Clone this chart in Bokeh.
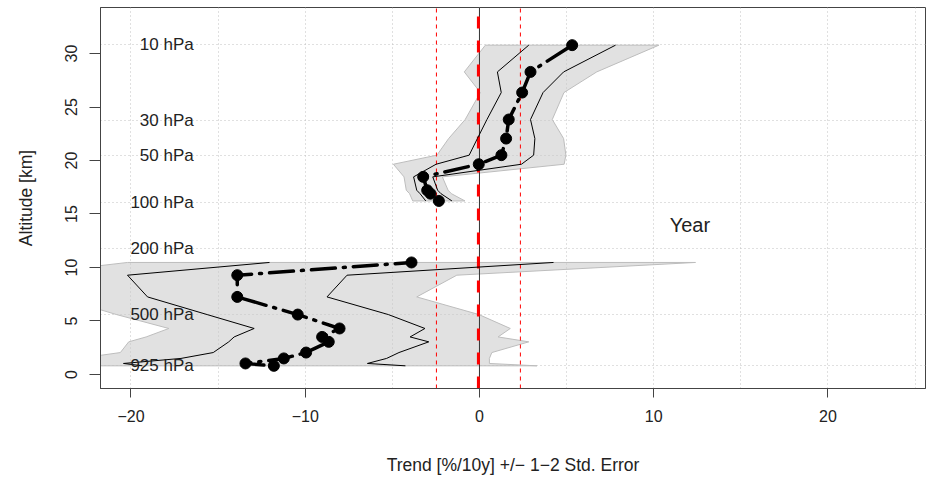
import numpy as np
from bokeh.plotting import figure
from bokeh.models import Range1d, FixedTicker, Label, ColumnDataSource
from bokeh.core.properties import value
from bokeh.embed import file_html
from bokeh.resources import INLINE

FONT = "Liberation Sans"

# ---- data ----
# upper (stratospheric) profile
alt_upper   = [16.22, 16.90, 17.22, 18.47, 19.65, 20.50, 22.05, 23.83, 26.35, 28.28, 30.78]
trend_upper = [-2.33, -2.81, -3.00, -3.23, -0.04, 1.26, 1.53, 1.68, 2.45, 2.93, 5.32]
se_upper    = [0.75, 0.60, 0.60, 0.55, 2.45, 1.85, 1.65, 1.25, 1.20, 1.90, 2.49]

# lower (tropospheric) profile
alt_lower   = [0.81, 1.03, 1.50, 2.05, 3.05, 3.51, 4.30, 5.60, 7.25, 9.28, 10.47]
trend_lower = [-11.80, -13.43, -11.23, -9.95, -8.65, -9.03, -8.03, -10.43, -13.90, -13.90, -3.90]
se_lower    = [7.55, 7.00, 5.90, 5.33, 5.74, 5.05, 4.90, 5.20, 5.15, 6.30, 8.15]

# pressure level labels and their altitudes
level_names = ["10 hPa", "30 hPa", "50 hPa", "100 hPa", "200 hPa", "500 hPa", "925 hPa"]
level_alt   = [30.87, 23.77, 20.50, 16.10, 11.80, 5.65, 0.80]

# reference lines
zero_line = 0.0
mean_trend = -0.06
mean_se_band = [-2.47, 2.35]

x_ticks = [-20, -10, 0, 10, 20]
y_ticks = [0, 5, 10, 15, 20, 25, 30]
x_grid = [-20, -15, -10, -5, 0, 5, 10, 15, 20, 25]
x_lim = (-21.75, 25.6)
y_lim = (-1.31, 34.3)

season_label = "Year"
label_x_pos = -16.4
season_pos = (12.08, 13.95)


def band(t, s, k):
    return [ti + k * si for ti, si in zip(t, s)]


p = figure(frame_width=825, frame_height=381,
           x_range=Range1d(*x_lim), y_range=Range1d(*y_lim),
           output_backend="svg", toolbar_location=None,
           min_border_left=100, min_border_right=8,
           min_border_top=7, min_border_bottom=89)

p.background_fill_color = "white"
p.border_fill_color = "white"
p.outline_line_color = "#444444"
p.outline_line_width = 1

# grid
p.xgrid.ticker = FixedTicker(ticks=x_grid)
p.ygrid.ticker = FixedTicker(ticks=level_alt)
p.grid.grid_line_color = "#c0c0c0"
p.grid.grid_line_dash = "1 3"
p.grid.grid_line_width = 1

# axes
p.xaxis.ticker = FixedTicker(ticks=x_ticks)
p.yaxis.ticker = FixedTicker(ticks=y_ticks)
p.xaxis.major_label_overrides = {-20: "\u221220", -10: "\u221210"}
p.yaxis.major_label_orientation = "vertical"
p.axis.minor_tick_line_color = None
p.axis.axis_line_color = "#444444"
p.axis.major_tick_line_color = "#444444"
p.axis.major_tick_in = 0
p.xaxis.major_tick_out = 9
p.yaxis.major_tick_out = 11
p.axis.major_label_text_font = FONT
p.axis.major_label_text_font_size = "16px"
p.axis.major_label_text_color = "#222222"
p.xaxis.major_label_standoff = 12
p.yaxis.major_label_standoff = 12
p.axis.axis_label_text_font = FONT
p.axis.axis_label_text_font_size = "17.5px"
p.axis.axis_label_text_font_style = "normal"
p.axis.axis_label_text_color = "#222222"
p.xaxis.axis_label = "Trend [%/10y] +/\u2212 1\u22122 Std. Error"
p.yaxis.axis_label = "Altitude [km]"
p.xaxis.axis_label_standoff = 30
p.yaxis.axis_label_standoff = 27

# +/- 2 SE shaded bands
for alt, t, s in ((alt_upper, trend_upper, se_upper), (alt_lower, trend_lower, se_lower)):
    xs = band(t, s, 2) + band(t, s, -2)[::-1]
    ys = list(alt) + list(alt)[::-1]
    p.patch(xs, ys, fill_color="#c8c8c8", fill_alpha=0.55,
            line_color="#bdbdbd", line_width=1)

# reference lines
p.segment(x0=[zero_line], y0=[y_lim[0]], x1=[zero_line], y1=[y_lim[1]],
          line_color="#333333", line_width=1)
p.segment(x0=[mean_trend], y0=[y_lim[0]], x1=[mean_trend], y1=[y_lim[1]],
          line_color="red", line_width=3, line_dash="12 12")
p.segment(x0=mean_se_band, y0=[y_lim[0]] * 2, x1=mean_se_band, y1=[y_lim[1]] * 2,
          line_color="red", line_width=1, line_dash="4 4")

# +/- 1 SE lines, trend line and points
for alt, t, s in ((alt_upper, trend_upper, se_upper), (alt_lower, trend_lower, se_lower)):
    p.line(band(t, s, 1), alt, line_color="black", line_width=1)
    p.line(band(t, s, -1), alt, line_color="black", line_width=1)
    p.line(t, alt, line_color="black", line_width=3.5, line_dash="2 8 24 8",
           line_cap="round")
    p.scatter(t, alt, size=11, fill_color="black", line_color="black")

# pressure level labels
lab_src = ColumnDataSource(dict(x=[label_x_pos] * len(level_names), y=level_alt,
                                text=level_names))
p.text(x="x", y="y", text="text", source=lab_src, text_align="right",
       text_baseline="middle", text_font=value(FONT), text_font_size="17px",
       text_color="#222222")

p.add_layout(Label(x=season_pos[0], y=season_pos[1], text=season_label,
                   text_align="center", text_baseline="middle",
                   text_font=FONT, text_font_size="20px", text_color="#222222"))

open("out.html", "w").write(file_html(p, INLINE))
